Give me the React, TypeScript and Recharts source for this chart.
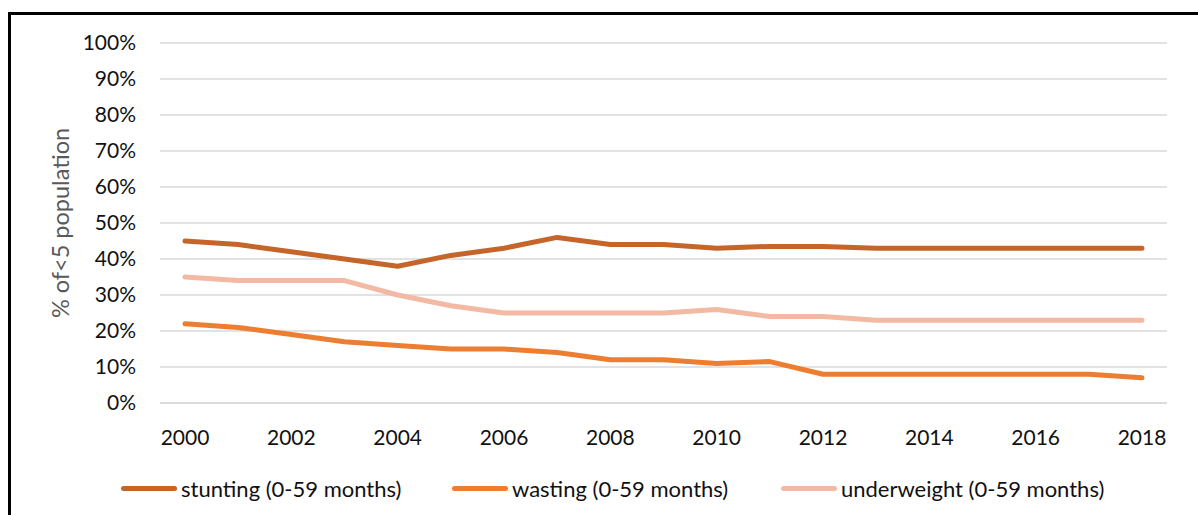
import React from "react";
import { LineChart, Line, XAxis, YAxis, CartesianGrid, Legend } from "recharts";

const years = ["2000","2001","2002","2003","2004","2005","2006","2007","2008","2009","2010","2011","2012","2013","2014","2015","2016","2017","2018"];
const stunting = [45,44,42,40,38,41,43,46,44,44,43,43.5,43.5,43,43,43,43,43,43];
const wasting = [22,21,19,17,16,15,15,14,12,12,11,11.5,8,8,8,8,8,8,7];
const underweight = [35,34,34,34,30,27,25,25,25,25,26,24,24,23,23,23,23,23,23];
const yTicks = [0,10,20,30,40,50,60,70,80,90,100];
const seriesNames = ["stunting (0-59 months)", "wasting (0-59 months)", "underweight (0-59 months)"];
const yTitle = "% of<5 population";

const data = years.map((y, i) => ({
  year: y,
  stunting: stunting[i],
  wasting: wasting[i],
  underweight: underweight[i],
}));

const FONT = "Lato, 'Open Sans', sans-serif";
const COLORS = ["#C5652A", "#ED7D31", "#F4B9A3"];
const legendLeft = [121, 452, 781];

const LegendContent = (props: any) => {
  const payload = [...(props.payload || [])].sort(
    (a: any, b: any) => seriesNames.indexOf(a.value) - seriesNames.indexOf(b.value)
  );
  return (
    <div style={{ position: "relative", width: 1198, height: 26, fontFamily: FONT, fontSize: 22, color: "#111" }}>
      {payload.map((p: any, i: number) => (
        <div key={i} style={{ position: "absolute", left: legendLeft[i], top: 0, height: 26, display: "flex", alignItems: "center", whiteSpace: "nowrap" }}>
          <span style={{ display: "inline-block", width: 56, height: 5, borderRadius: 3, background: p.color, marginRight: 4 }} />
          <span>{p.value}</span>
        </div>
      ))}
    </div>
  );
};

const YTitle = (props: any) => {
  const vb = props.viewBox || { x: 0, y: 0, width: 0, height: 0 };
  const cx = 60;
  const cy = vb.y + vb.height / 2;
  return (
    <text x={cx} y={cy} transform={`rotate(-90, ${cx}, ${cy})`} textAnchor="middle" dominantBaseline="central" fill="#595959" fontFamily={FONT} fontSize={23.5}>
      {yTitle}
    </text>
  );
};

export default function App() {
  return (
    <div style={{ position: "fixed", left: 0, top: 0, width: 1198, height: 515, background: "#fff", overflow: "hidden" }}>
      <div style={{ position: "absolute", left: 8, top: 12, width: 1200, height: 510, borderLeft: "3px solid #000", borderTop: "3px solid #000" }} />
      <div style={{ position: "absolute", left: 0, top: 0 }}>
        <LineChart width={1198} height={515} data={data} margin={{ top: 43, right: 31, bottom: 0, left: 0 }}>
          <CartesianGrid vertical={false} stroke="#d9d9d9" strokeWidth={1.5} />
          <XAxis
            dataKey="year"
            height={112}
            interval={1}
            padding={{ left: 25, right: 25 }}
            tickLine={false}
            tickSize={0}
            tickMargin={27}
            axisLine={{ stroke: "#d9d9d9", strokeWidth: 1.5 }}
            tick={{ fill: "#111", fontFamily: FONT, fontSize: 21 }}
          />
          <YAxis
            width={160}
            domain={[0, 100]}
            ticks={yTicks}
            interval={0}
            tickFormatter={(v: number) => `${v}%`}
            tickLine={false}
            tickSize={0}
            tickMargin={24}
            axisLine={false}
            tick={{ fill: "#111", fontFamily: FONT, fontSize: 21 }}
            label={<YTitle />}
          />
          <Legend verticalAlign="middle" layout="horizontal" content={<LegendContent />} wrapperStyle={{ top: 475, left: 0, width: 1198, height: 26 }} />
          <Line dataKey="stunting" name={seriesNames[0]} stroke={COLORS[0]} strokeWidth={5} strokeLinecap="round" strokeLinejoin="round" dot={false} activeDot={false} isAnimationActive={false} />
          <Line dataKey="wasting" name={seriesNames[1]} stroke={COLORS[1]} strokeWidth={5} strokeLinecap="round" strokeLinejoin="round" dot={false} activeDot={false} isAnimationActive={false} />
          <Line dataKey="underweight" name={seriesNames[2]} stroke={COLORS[2]} strokeWidth={5} strokeLinecap="round" strokeLinejoin="round" dot={false} activeDot={false} isAnimationActive={false} />
        </LineChart>
      </div>
    </div>
  );
}
